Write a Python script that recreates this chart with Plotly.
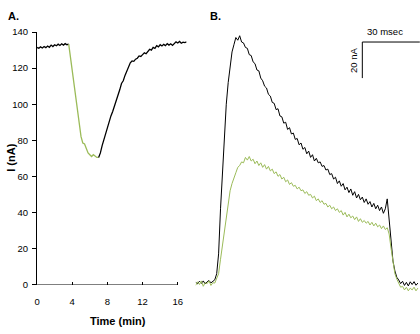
import plotly.graph_objects as go

# ---------------- Panel A data (time in min, current in nA) ----------------
a_pre_t = [0, 0.2, 0.4, 0.6, 0.8, 1.0, 1.2, 1.4, 1.6, 1.8, 2.0, 2.2, 2.4, 2.6, 2.8, 3.0, 3.2, 3.4, 3.6]
a_pre_v = [131.5, 131, 131.8, 131.2, 132, 131.4, 132.3, 131.6, 132.8, 132, 133, 132.4, 133.3, 132.6,
           133.5, 132.8, 133.6, 133, 133.3]

a_drug_t = [3.6, 3.8, 4.0, 4.2, 4.4, 4.6, 4.8, 5.0, 5.2, 5.4, 5.6, 5.8, 6.0, 6.2, 6.4, 6.6, 6.8, 7.0]
a_drug_v = [133.3, 126, 117, 110.5, 101, 94.4, 87, 82, 78.5, 78, 75.5, 73, 72, 71, 72, 71, 70.5, 70.5]

a_post_t = [7.0, 7.2, 7.4, 7.6, 7.8, 8.0, 8.2, 8.4, 8.6, 8.8, 9.0, 9.2, 9.4, 9.6, 9.8, 10.0, 10.2, 10.4,
            10.6, 10.8, 11.0, 11.2, 11.4, 11.6, 11.8, 12.0, 12.2, 12.4, 12.6, 12.8, 13.0, 13.2, 13.4,
            13.6, 13.8, 14.0, 14.2, 14.4, 14.6, 14.8, 15.0, 15.2, 15.4, 15.6, 15.8, 16.0, 16.2, 16.4,
            16.6, 16.8, 17.0]
a_post_v = [70.5, 73, 77, 80.5, 84, 88, 91, 93.5, 96, 99, 101, 104, 108, 111.5, 113, 116, 118.5, 121,
            123, 124, 123.8, 125, 125.5, 126.8, 126.5, 127.5, 128.5, 128, 129.5, 130.5, 130, 131.5, 131,
            132.5, 131.8, 133, 132.3, 133.2, 132.5, 133.6, 132.8, 133.5, 132.6, 133.8, 134.6, 134, 134.8,
            133.8, 134.4, 134.2, 134.6]

a_xticks = [0, 4, 8, 12, 16]
a_yticks = [0, 20, 40, 60, 80, 100, 120, 140]

# ---------------- Panel B data (time in ms, current in nA) ----------------
b_t = list(range(0, 117))
b_control = [1.2, 0.4, 1.8, 0.6, 2.0, 0.3, 1.5, 2.2, 0.9, 1.7,
             2.6, 6, 17, 42, 63, 82, 100, 112, 122, 129,
             133, 137, 135.5, 138, 134.5, 134, 131.5, 131, 127.5, 127,
             123.5, 122.5, 119, 118.5, 114.5, 113, 110, 109, 105.5, 104.5,
             101, 100.5, 97, 97.5, 93.5, 93, 89.5, 90, 86, 87,
             83.5, 84, 80.5, 81, 77.5, 78.5, 75, 76, 72.5, 74,
             70.5, 72, 68.5, 70, 67.5, 68, 65.5, 66, 63.5, 64,
             61, 61.5, 58.5, 59.5, 56, 57.5, 54.5, 56, 52.5, 54,
             51, 53, 49.5, 51.5, 48, 50, 47, 48.5, 45.5, 47.5,
             44.5, 46, 43, 45, 42, 44, 41, 43, 39.5, 42,
             47.5, 36, 22, 13, 7.5, 4, 2.5, 0.5, 1.8, -0.5,
             1.2, -0.8, 1.5, 0, 1.6, -0.4, 0.8]
b_drug = [-0.5, 1.5, 0, 2, -1, 1, 0.5, 2, -0.5, 1,
          0.8, 3, 6, 14, 22, 31, 39, 46, 52, 56,
          59.5, 62, 65, 66, 68, 67.5, 70.5, 69, 71, 68.5,
          69.5, 67, 68.5, 66, 67.5, 65, 66.5, 64, 65.5, 63,
          64, 61.5, 62.5, 60, 61, 58.5, 59.5, 57, 58, 55.5,
          56.5, 54.5, 55, 53, 54, 52, 52.5, 50.5, 51.5, 49.5,
          50, 48, 49, 46.5, 47.5, 45.5, 46.5, 44.5, 45, 43,
          44, 42, 43, 41, 42, 40, 41, 38.5, 40, 37.5,
          39, 37, 38, 36, 37.5, 35, 36.5, 34.5, 35.5, 34,
          35, 33, 34.5, 32.5, 34, 32, 33, 31, 32.5, 30.5,
          31.5, 28, 20, 12, 6, 3, 0.5, -1.5, -1, -3,
          -1.5, -3.5, -2, -3, -1.5, -3.5, -2]

# scale bar (ms, nA)
bar_x0, bar_len_ms = 87, 30
bar_y0, bar_len_na = 134.5, 20

BLACK = "#000000"
GREEN = "#9bbb59"
SMALL = "Liberation Sans Narrow, Arial Narrow, Liberation Sans, Arial, sans-serif"
BOLD = "Liberation Sans, Arial, sans-serif"
SMALL_SIZE = 9.5

W, H = 420, 334
def px(x):
    return x / W
def py(y):
    return (H - y) / H

fig = go.Figure()
fig.add_trace(go.Scatter(x=a_pre_t, y=a_pre_v, mode="lines", line=dict(color=BLACK, width=1.3),
                         xaxis="x", yaxis="y", showlegend=False))
fig.add_trace(go.Scatter(x=a_drug_t, y=a_drug_v, mode="lines", line=dict(color=GREEN, width=1.3),
                         xaxis="x", yaxis="y", showlegend=False))
fig.add_trace(go.Scatter(x=a_post_t, y=a_post_v, mode="lines", line=dict(color=BLACK, width=1.3),
                         xaxis="x", yaxis="y", showlegend=False))
fig.add_trace(go.Scatter(x=b_t, y=b_control, mode="lines", line=dict(color=BLACK, width=1),
                         xaxis="x2", yaxis="y2", showlegend=False))
fig.add_trace(go.Scatter(x=b_t, y=b_drug, mode="lines", line=dict(color=GREEN, width=1),
                         xaxis="x2", yaxis="y2", showlegend=False))

# A x-axis line only from 0 to 16
fig.add_shape(type="line", xref="x", yref="y", x0=a_xticks[0], x1=a_xticks[-1], y0=0, y1=0,
              line=dict(color="#000000", width=1))
# scale bar
fig.add_shape(type="line", xref="x2", yref="y2", x0=bar_x0, x1=bar_x0 + bar_len_ms, y0=bar_y0, y1=bar_y0,
              line=dict(color="#000000", width=1))
fig.add_shape(type="line", xref="x2", yref="y2", x0=bar_x0, x1=bar_x0, y0=bar_y0, y1=bar_y0 - bar_len_na,
              line=dict(color="#000000", width=1))

fig.add_annotation(xref="x2", yref="y2", x=bar_x0 + bar_len_ms / 2 - 3, y=bar_y0 + 1.5, yanchor="bottom",
                   text="30 msec", showarrow=False, font=dict(family=SMALL, size=SMALL_SIZE, color="#000"))
fig.add_annotation(xref="x2", yref="y2", x=bar_x0 - 1, y=bar_y0 - bar_len_na / 2, xanchor="right",
                   text="20 nA", textangle=-90, showarrow=False,
                   font=dict(family=SMALL, size=SMALL_SIZE, color="#000"))

fig.add_annotation(xref="paper", yref="paper", x=px(3), y=py(10), xanchor="left", yanchor="middle",
                   text="<b>A.</b>", showarrow=False, font=dict(family=BOLD, size=11, color="#000"))
fig.add_annotation(xref="paper", yref="paper", x=px(206), y=py(10), xanchor="left", yanchor="middle",
                   text="<b>B.</b>", showarrow=False, font=dict(family=BOLD, size=11, color="#000"))
fig.add_annotation(xref="paper", yref="paper", x=px(116), y=py(326), xanchor="center", yanchor="middle",
                   text="<b>Time (min)</b>", showarrow=False, font=dict(family=BOLD, size=11, color="#000"))
fig.add_annotation(xref="paper", yref="paper", x=px(8), y=py(157), xanchor="center", yanchor="middle",
                   text="<b>I (nA)</b>", textangle=-90, showarrow=False,
                   font=dict(family=BOLD, size=11, color="#000"))

fig.update_layout(
    width=W, height=H, margin=dict(l=0, r=0, t=0, b=0),
    paper_bgcolor="white", plot_bgcolor="white", showlegend=False,
    xaxis=dict(domain=[px(34.3), px(184.9)], range=[0, 17], tickvals=a_xticks,
               ticks="inside", ticklen=3, tickcolor="#000", showline=False, showgrid=False,
               zeroline=False, ticklabelstandoff=10,
               tickfont=dict(family=SMALL, size=SMALL_SIZE, color="#000")),
    yaxis=dict(domain=[py(288), py(27)], range=[0, 140], tickvals=a_yticks,
               ticks="outside", ticklen=4, tickcolor="#000", showline=True, linecolor="#000",
               linewidth=1, showgrid=False, zeroline=False, ticklabelstandoff=2,
               tickfont=dict(family=SMALL, size=SMALL_SIZE, color="#000")),
    xaxis2=dict(domain=[px(194), 1.0], range=[0, 117.1], visible=False),
    yaxis2=dict(domain=[py(288 + 10 * 1.864), py(27)], range=[-10, 140], visible=False),
)

fig.write_html("out.html")
